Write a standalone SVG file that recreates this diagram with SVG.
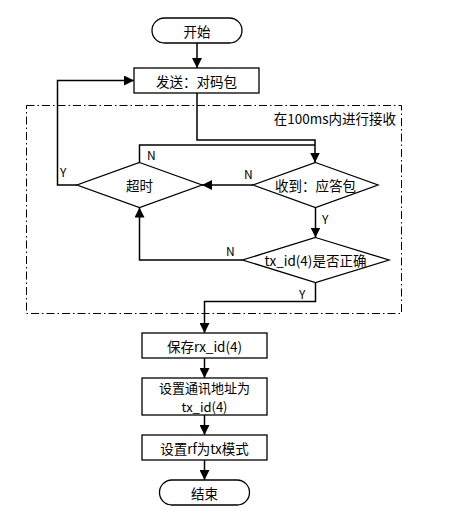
<svg xmlns="http://www.w3.org/2000/svg" width="450" height="524" viewBox="0 0 450 524">
<style>
.shape{fill:#fff;stroke:#000;stroke-width:1.3}
.line{fill:none;stroke:#000;stroke-width:1.5}
.dash{fill:none;stroke:#000;stroke-width:1;stroke-dasharray:8,3,1.5,3}
text{font-family:"Noto Sans CJK SC","Microsoft YaHei",sans-serif;font-size:13.5px;fill:#000;text-anchor:middle;dominant-baseline:central}
.lbl{font-size:12px;text-anchor:start}
</style>
<defs>
<marker id="arr" viewBox="0 0 10 10" refX="10" refY="5" markerWidth="10" markerHeight="10" markerUnits="userSpaceOnUse" orient="auto">
<path d="M0,0 L10,5 L0,10 Z" fill="#000"/>
</marker>
</defs>
<rect class="dash" x="26.5" y="105.5" width="375" height="208"/>
<text x="396" y="118" style="text-anchor:end">在100ms内进行接收</text>
<g id="connectors">
<path class="line" d="M197,43 V68" marker-end="url(#arr)"/>
<path class="line" d="M197,93 V140 H315 V162.5" marker-end="url(#arr)"/>
<path class="line" d="M139.5,162.5 V145 H315"/>
<path class="line" d="M77,185 H57.5 V80.5 H134" marker-end="url(#arr)"/>
<path class="line" d="M253,185 H202" marker-end="url(#arr)"/>
<path class="line" d="M315.5,207.5 V237.5" marker-end="url(#arr)"/>
<path class="line" d="M242.5,260 H139.5 V207.5" marker-end="url(#arr)"/>
<path class="line" d="M315.5,282.5 V301.5 H204.5 V333" marker-end="url(#arr)"/>
<path class="line" d="M204.5,358 V378" marker-end="url(#arr)"/>
<path class="line" d="M204.5,415 V435" marker-end="url(#arr)"/>
<path class="line" d="M204.5,460 V480" marker-end="url(#arr)"/>
<text class="lbl" x="147" y="154">N</text>
<text class="lbl" x="60" y="171">Y</text>
<text class="lbl" x="244" y="173">N</text>
<text class="lbl" x="322" y="218">Y</text>
<text class="lbl" x="226" y="250">N</text>
<text class="lbl" x="299" y="293">Y</text>
</g>
<g id="start">
<rect class="shape" x="152" y="18" width="90" height="25" rx="12.5"/>
<text x="197" y="30.5">开始</text>
</g>
<g id="send">
<rect class="shape" x="134" y="68" width="125" height="25"/>
<text x="196.5" y="80.5">发送：对码包</text>
</g>
<g id="timeout">
<polygon class="shape" points="139.5,162.5 202,185 139.5,207.5 77,185"/>
<text x="139.5" y="185">超时</text>
</g>
<g id="recv">
<polygon class="shape" points="315.5,162.5 378,185 315.5,207.5 253,185"/>
<text x="315.5" y="185">收到：应答包</text>
</g>
<g id="check">
<polygon class="shape" points="315.5,237.5 389,260 315.5,282.5 242.5,260"/>
<text x="315.5" y="260">tx_id(4)是否正确</text>
</g>
<g id="save">
<rect class="shape" x="142" y="333" width="125" height="25"/>
<text x="204.5" y="345.5">保存rx_id(4)</text>
</g>
<g id="setaddr">
<rect class="shape" x="142" y="378" width="125" height="37"/>
<text x="204.5" y="387" style="font-size:13px">设置通讯地址为</text>
<text x="204.5" y="406" style="font-size:13px">tx_id(4)</text>
</g>
<g id="setrf">
<rect class="shape" x="142" y="435" width="125" height="25"/>
<text x="204.5" y="447.5">设置rf为tx模式</text>
</g>
<g id="end">
<rect class="shape" x="159.5" y="480" width="90" height="25" rx="12.5"/>
<text x="204.5" y="492.5">结束</text>
</g>
</svg>
